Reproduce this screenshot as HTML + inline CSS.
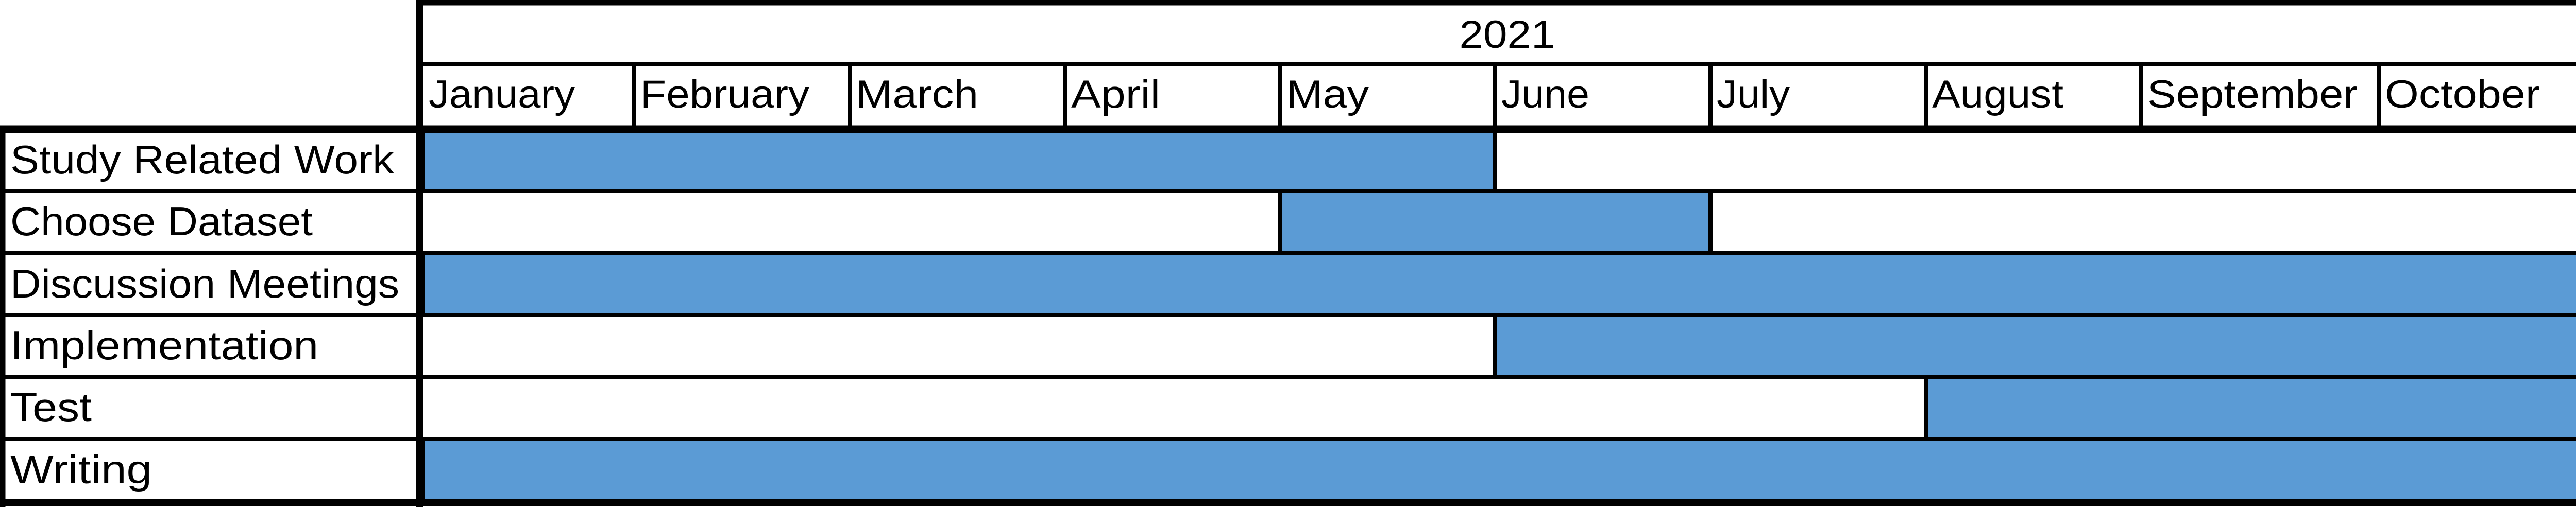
<!DOCTYPE html>
<html><head><meta charset="utf-8"><style>
html,body{margin:0;padding:0;background:#fff;width:5040px;height:985px;overflow:hidden;}
svg{display:block;position:absolute;left:0;top:0;}
text{font-family:"Liberation Sans",sans-serif;fill:#000;}
</style></head><body>
<svg id="chart" width="5040" height="985" viewBox="0 0 5040 985" xmlns="http://www.w3.org/2000/svg"></svg>
<script>
const year = "2021";
const months = ["January","February","March","April","May","June","July","August","September","October"];
const tasks = ["Study Related Work","Choose Dataset","Discussion Meetings","Implementation","Test","Writing"];
const taskStart = [0,4,0,5,7,0];
const taskEnd = [5,6,10,10,10,10];

const svg = document.getElementById('chart');
const NS = "http://www.w3.org/2000/svg";
// layout
const edges = [820,1231,1649,2067,2485,2902,3320,3738,4156,4617,5031];
const monthTextW = [284,328,238,173,160,171,142,255,408,301];
const rowTops = [251,371,492,612,732,853,976];
const labelW = [745,587,755,598,158,275];
function xScale(m){ return edges[m]; }
function el(tag, attrs, parent){
  const e = document.createElementNS(NS, tag);
  for (const k in attrs) e.setAttribute(k, attrs[k]);
  (parent||svg).appendChild(e);
  return e;
}
function line(x1,y1,x2,y2,w,name){
  const l = el('line',{x1,y1,x2,y2,stroke:'#000','stroke-width':w});
  
  
}
// bars
tasks.forEach((t,i)=>{
  const x0 = xScale(taskStart[i]), x1 = xScale(taskEnd[i]);
  const r = el('rect',{x:x0,y:rowTops[i],width:x1-x0,height:rowTops[i+1]-rowTops[i],fill:'#5b9bd5',stroke:'#000','stroke-width':8});
  
  
});
// year
const yt = el('text',{x:(edges[0]+edges[10])/2,y:93,'font-size':76,'text-anchor':'middle',textLength:186,lengthAdjust:'spacingAndGlyphs'});
yt.textContent = year;


// months
months.forEach((m,i)=>{
  const t = el('text',{x:xScale(i)+12,y:209,'font-size':76,textLength:monthTextW[i],lengthAdjust:'spacingAndGlyphs'});
  t.textContent = m;
  
  
  if (i>0) line(xScale(i),125,xScale(i),251,8,'month-divider');
});
// task labels
tasks.forEach((t,i)=>{
  const tx = el('text',{x:20,y:rowTops[i]+86,'font-size':78,textLength:labelW[i],lengthAdjust:'spacingAndGlyphs'});
  tx.textContent = t;
  
  
});
// grid lines
for (let i=1;i<tasks.length;i++) line(0,rowTops[i],5037,rowTops[i],8,'row-divider');
line(814,125,5031,125,8,'year-row-divider');
line(0,251,5037,251,15,'header-bottom-border');
line(814,0,814,985,14,'label-column-border');
line(808,5,5037,5,11,'top-border');
line(5,244,5,985,11,'left-border');
line(5031,0,5031,985,11,'right-border');
line(0,977,5037,977,14,'bottom-border');
</script>
</body></html>
